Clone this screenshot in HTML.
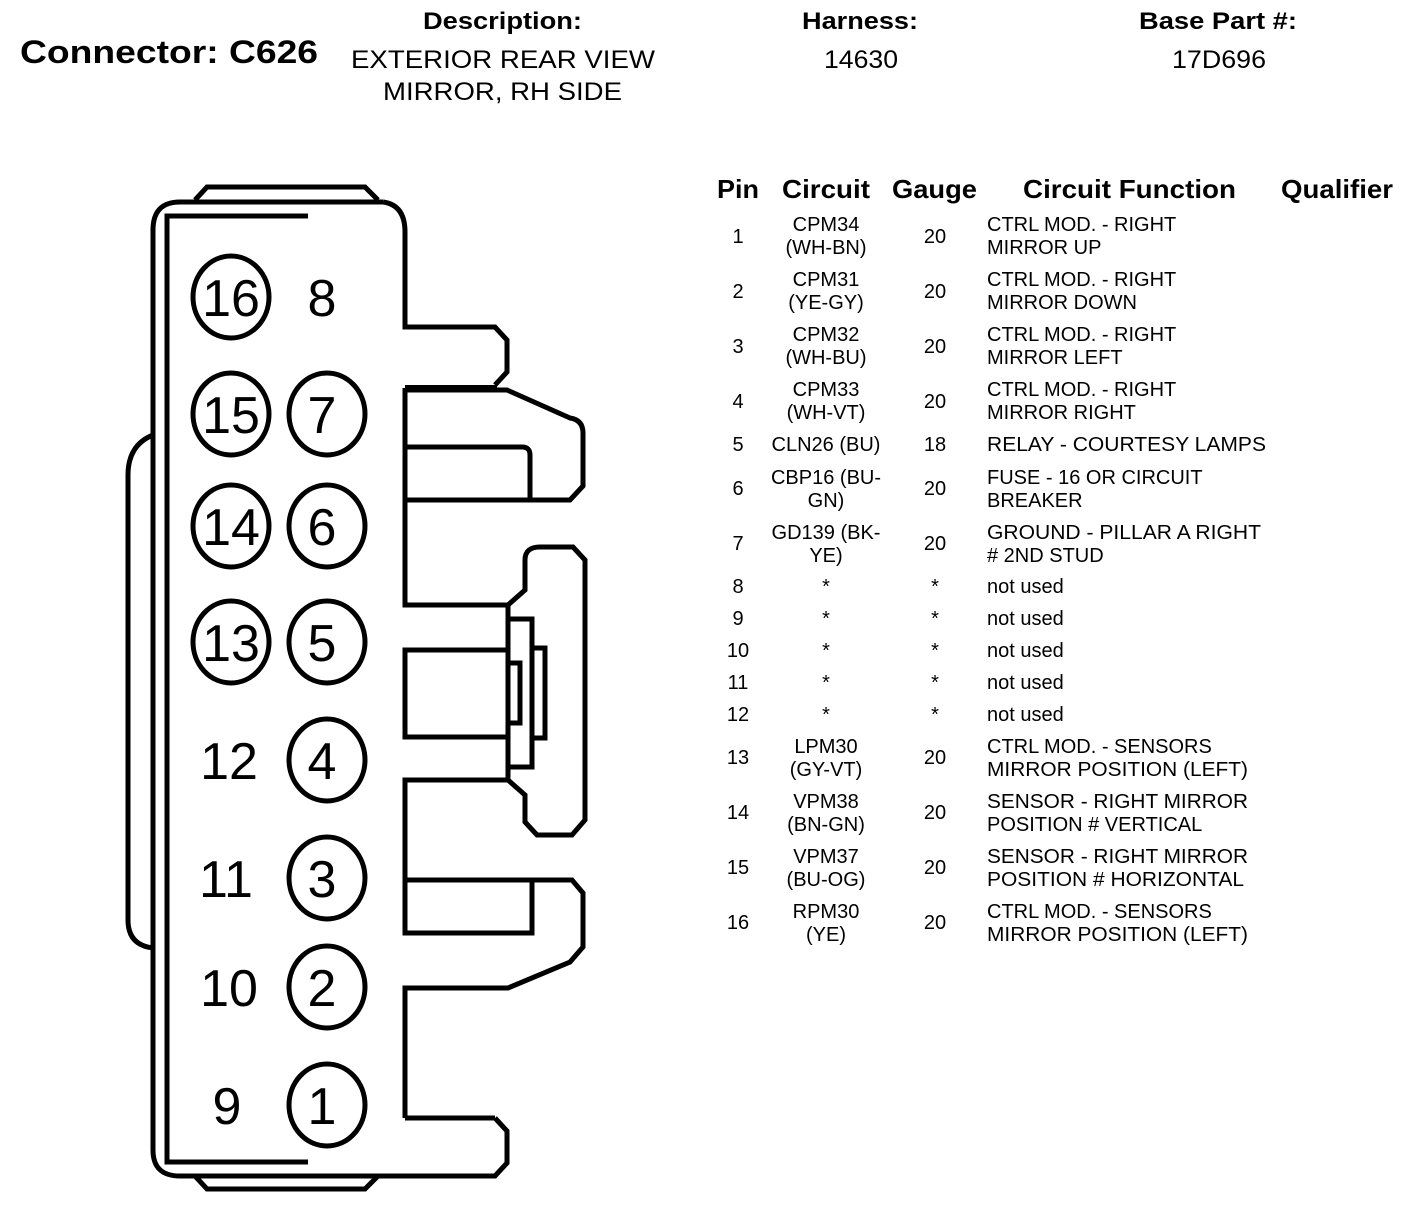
<!DOCTYPE html>
<html><head><meta charset="utf-8"><style>
html,body{margin:0;padding:0;background:#fff;}
svg{display:block;}
text{font-family:"Liberation Sans",Arial,sans-serif;fill:#000;}
</style></head><body>
<svg width="1408" height="1214" viewBox="0 0 1408 1214" xmlns="http://www.w3.org/2000/svg">
<g font-weight="bold">
<text x="20" y="63" font-size="32" textLength="298" lengthAdjust="spacingAndGlyphs">Connector: C626</text>
<text x="423" y="29" font-size="24" textLength="159" lengthAdjust="spacingAndGlyphs">Description:</text>
<text x="802" y="29" font-size="24" textLength="116" lengthAdjust="spacingAndGlyphs">Harness:</text>
<text x="1139" y="29" font-size="24" textLength="158" lengthAdjust="spacingAndGlyphs">Base Part #:</text>
</g>
<text x="351" y="68" font-size="25" textLength="304" lengthAdjust="spacingAndGlyphs">EXTERIOR REAR VIEW</text>
<text x="383" y="100" font-size="25" textLength="239" lengthAdjust="spacingAndGlyphs">MIRROR, RH SIDE</text>
<text x="824" y="68" font-size="25" textLength="74" lengthAdjust="spacingAndGlyphs">14630</text>
<text x="1172" y="68" font-size="25" textLength="94" lengthAdjust="spacingAndGlyphs">17D696</text>

<g fill="none" stroke="#000" stroke-width="5" stroke-linejoin="miter">
<path d="M195,200 L207,187 L365,187 L378,200"/>
<path d="M195,1176 L207,1189 L365,1189 L378,1176"/>
<path d="M383,202 Q405,205 405,232 L405,327 L495,327 L507,340 L507,372 L495,385"/>
<path d="M495,1118 L507,1131 L507,1163 L495,1176 L180,1176 Q153,1176 153,1150 L153,230 Q153,202 180,202 L383,202"/>
<path d="M308,216 L167,216 L167,1162 L308,1162"/>
<path d="M153,435 Q128,445 128,475 L128,920 Q128,945 153,948"/>
<path d="M405,1118 L495,1118"/>
<path d="M405,388 L405,500 L570,500 L583,486 L583,433 Q583,420 570,418 L507,390 L405,390"/>
<path d="M405,447 L522,447 Q530,447 530,455 L530,500"/>
<path d="M405,500 L405,605 L508,605"/>
<path d="M508,605 L525,590 L525,560 Q525,547 540,547 L573,547 L585,560 L585,820 L572,835 L537,835 L525,822 L525,795 L508,780"/>
<path d="M508,605 L508,780"/>
<path d="M508,619 L532,619 L532,767 L508,767"/>
<path d="M532,648 L545,648 L545,738 L532,738"/>
<path d="M508,663 L520,663 L520,723 L508,723"/>
<path d="M508,650 L405,650 L405,737 L508,737"/>
<path d="M508,780 L405,780 L405,880 L572,880 L583,893 L583,947 L570,962 L508,988 L405,988 L405,1118"/>
<path d="M405,878 L405,933 L532,933 L532,880"/>
</g>
<path d="M405,385 L497,385 L497,391 L405,391 Z" fill="#000"/>

<g fill="none" stroke="#000" stroke-width="5">
<ellipse cx="231" cy="297" rx="38" ry="41"/>
<ellipse cx="231" cy="414" rx="38" ry="41"/>
<ellipse cx="231" cy="526" rx="38" ry="41"/>
<ellipse cx="231" cy="642" rx="38" ry="41"/>
<ellipse cx="327" cy="414" rx="38" ry="41"/>
<ellipse cx="327" cy="526" rx="38" ry="41"/>
<ellipse cx="327" cy="642" rx="38" ry="41"/>
<ellipse cx="327" cy="760" rx="38" ry="41"/>
<ellipse cx="327" cy="878" rx="38" ry="41"/>
<ellipse cx="327" cy="987" rx="38" ry="41"/>
<ellipse cx="327" cy="1105" rx="38" ry="41"/>
</g>
<g font-size="52" text-anchor="middle">
<text x="231" y="316">16</text><text x="322" y="316">8</text>
<text x="231" y="433">15</text><text x="322" y="433">7</text>
<text x="231" y="545">14</text><text x="322" y="545">6</text>
<text x="231" y="661">13</text><text x="322" y="661">5</text>
<text x="229" y="779">12</text><text x="322" y="779">4</text>
<text x="226" y="897">11</text><text x="322" y="897">3</text>
<text x="229" y="1006">10</text><text x="322" y="1006">2</text>
<text x="227" y="1124">9</text><text x="322" y="1124">1</text>
</g>

<g font-size="26" font-weight="bold">
<text x="717" y="198" textLength="42" lengthAdjust="spacingAndGlyphs">Pin</text>
<text x="782" y="198" textLength="88" lengthAdjust="spacingAndGlyphs">Circuit</text>
<text x="892" y="198" textLength="85" lengthAdjust="spacingAndGlyphs">Gauge</text>
<text x="1023" y="198" textLength="213" lengthAdjust="spacingAndGlyphs">Circuit Function</text>
<text x="1281" y="198" textLength="112" lengthAdjust="spacingAndGlyphs">Qualifier</text>
</g>
<g font-size="20">
<g text-anchor="middle">
<text x="738" y="243">1</text><text x="826" y="231">CPM34</text><text x="826" y="254">(WH-BN)</text><text x="935" y="243">20</text>
<text x="738" y="298">2</text><text x="826" y="286">CPM31</text><text x="826" y="309">(YE-GY)</text><text x="935" y="298">20</text>
<text x="738" y="353">3</text><text x="826" y="341">CPM32</text><text x="826" y="364">(WH-BU)</text><text x="935" y="353">20</text>
<text x="738" y="408">4</text><text x="826" y="396">CPM33</text><text x="826" y="419">(WH-VT)</text><text x="935" y="408">20</text>
<text x="738" y="451">5</text><text x="826" y="451">CLN26 (BU)</text><text x="935" y="451">18</text>
<text x="738" y="495">6</text><text x="826" y="484">CBP16 (BU-</text><text x="826" y="507">GN)</text><text x="935" y="495">20</text>
<text x="738" y="550">7</text><text x="826" y="539">GD139 (BK-</text><text x="826" y="562">YE)</text><text x="935" y="550">20</text>
<text x="738" y="593">8</text><text x="826" y="593">*</text><text x="935" y="593">*</text>
<text x="738" y="625">9</text><text x="826" y="625">*</text><text x="935" y="625">*</text>
<text x="738" y="657">10</text><text x="826" y="657">*</text><text x="935" y="657">*</text>
<text x="738" y="689">11</text><text x="826" y="689">*</text><text x="935" y="689">*</text>
<text x="738" y="721">12</text><text x="826" y="721">*</text><text x="935" y="721">*</text>
<text x="738" y="764">13</text><text x="826" y="753">LPM30</text><text x="826" y="776">(GY-VT)</text><text x="935" y="764">20</text>
<text x="738" y="819">14</text><text x="826" y="808">VPM38</text><text x="826" y="831">(BN-GN)</text><text x="935" y="819">20</text>
<text x="738" y="874">15</text><text x="826" y="863">VPM37</text><text x="826" y="886">(BU-OG)</text><text x="935" y="874">20</text>
<text x="738" y="929">16</text><text x="826" y="918">RPM30</text><text x="826" y="941">(YE)</text><text x="935" y="929">20</text>
</g>
<g>
<text x="987" y="231">CTRL MOD. - RIGHT</text><text x="987" y="254">MIRROR UP</text>
<text x="987" y="286">CTRL MOD. - RIGHT</text><text x="987" y="309">MIRROR DOWN</text>
<text x="987" y="341">CTRL MOD. - RIGHT</text><text x="987" y="364">MIRROR LEFT</text>
<text x="987" y="396">CTRL MOD. - RIGHT</text><text x="987" y="419">MIRROR RIGHT</text>
<text x="987" y="451" textLength="279" lengthAdjust="spacingAndGlyphs">RELAY - COURTESY LAMPS</text>
<text x="987" y="484">FUSE - 16 OR CIRCUIT</text><text x="987" y="507">BREAKER</text>
<text x="987" y="539" textLength="274" lengthAdjust="spacingAndGlyphs">GROUND - PILLAR A RIGHT</text><text x="987" y="562"># 2ND STUD</text>
<text x="987" y="593">not used</text>
<text x="987" y="625">not used</text>
<text x="987" y="657">not used</text>
<text x="987" y="689">not used</text>
<text x="987" y="721">not used</text>
<text x="987" y="753">CTRL MOD. - SENSORS</text><text x="987" y="776" textLength="261" lengthAdjust="spacingAndGlyphs">MIRROR POSITION (LEFT)</text>
<text x="987" y="808" textLength="261" lengthAdjust="spacingAndGlyphs">SENSOR - RIGHT MIRROR</text><text x="987" y="831">POSITION # VERTICAL</text>
<text x="987" y="863" textLength="261" lengthAdjust="spacingAndGlyphs">SENSOR - RIGHT MIRROR</text><text x="987" y="886" textLength="257" lengthAdjust="spacingAndGlyphs">POSITION # HORIZONTAL</text>
<text x="987" y="918">CTRL MOD. - SENSORS</text><text x="987" y="941" textLength="261" lengthAdjust="spacingAndGlyphs">MIRROR POSITION (LEFT)</text>
</g>
</g>
</svg>
</body></html>
